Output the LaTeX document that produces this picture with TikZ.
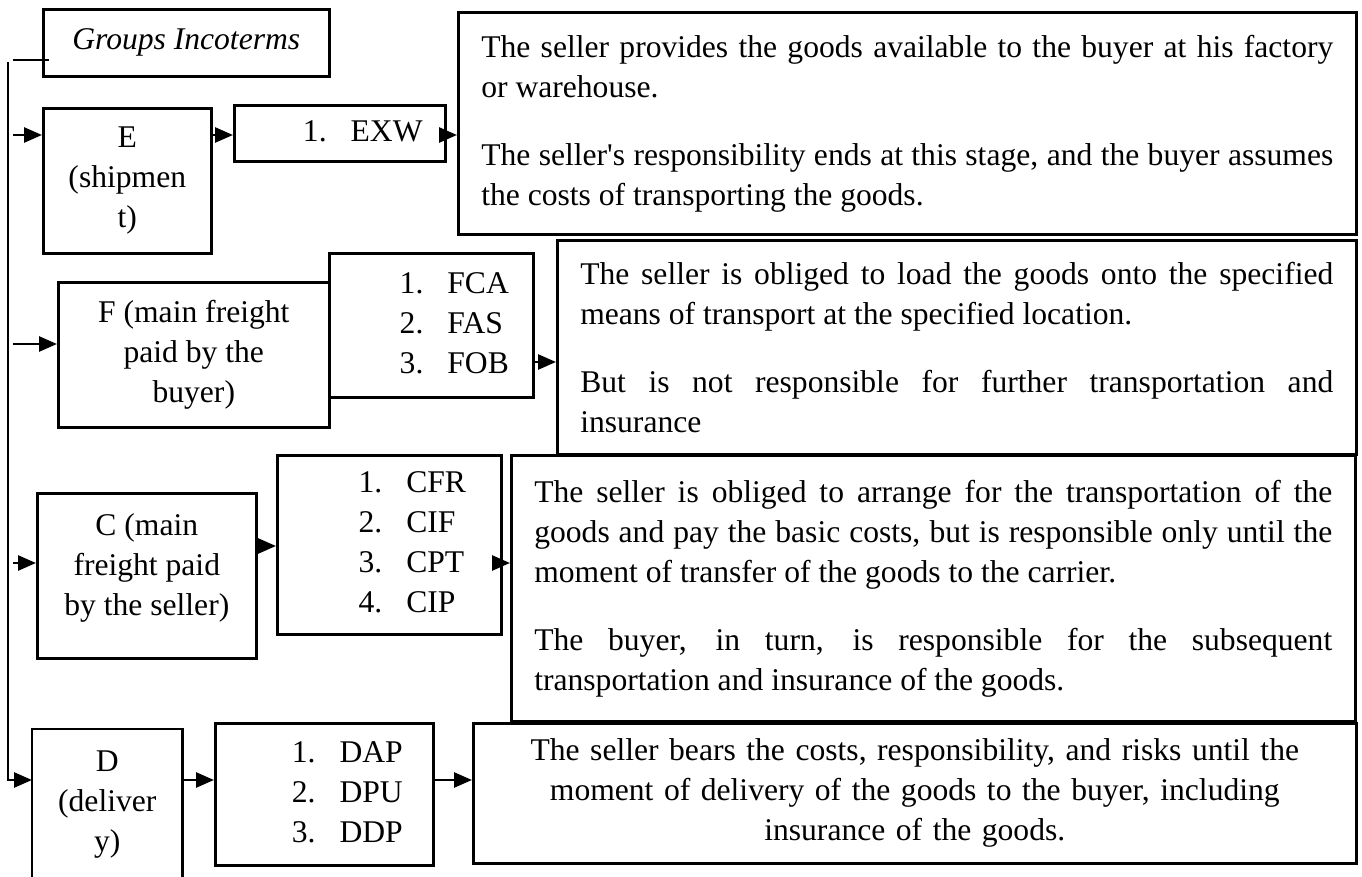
\documentclass[tikz,border=0pt]{standalone}
\usepackage{fontspec}
\setmainfont{Liberation Serif}
\usetikzlibrary{arrows.meta,positioning}

\setlength{\parindent}{0pt}
\tolerance=9999
\hyphenpenalty=10000
\hbadness=10000

\newcommand{\terms}[1]{\hspace*{23pt}\begin{tabular}{@{}r@{\hspace{12pt}}l@{}}#1\end{tabular}}

\begin{document}
\begin{tikzpicture}[x=0.5pt,y=-0.5pt,font=\fontsize{15.8}{20}\selectfont,
    box/.style={draw,line width=1.3pt,inner sep=0pt,anchor=north west,align=center},
    listbox/.style={draw,line width=1.3pt,inner sep=0pt,anchor=north west},
    descbox/.style={draw,line width=1.3pt,anchor=north west,inner xsep=11.5pt,inner ysep=0pt,align=justify},
    arr/.style={-{Triangle[length=9pt,width=7.5pt]},line width=1.3pt},
    thinline/.style={line width=0.8pt}]

  \useasboundingbox (0,0) rectangle (1362,877);

  \node[box,minimum width=143pt,minimum height=33.5pt] (title) at (42,8) {\itshape Groups Incoterms};

  % Group E
  \node[box,minimum width=84pt,minimum height=72.5pt] (E) at (42,107) {E\\(shipmen\\t)};
  \node[listbox,minimum width=105.5pt,minimum height=28pt] (EXW) at (233,104) {\terms{1. & EXW}};
  \node[descbox,text width=426pt,minimum height=111pt] (T1) at (457,11)
    {The seller provides the goods available to the buyer at his factory\linebreak or warehouse.\par\vspace{14pt}The seller\textquotesingle s responsibility ends at this stage, and the buyer assumes\linebreak the costs of transporting the goods.};

  % Group F
  \node[box,minimum width=135.5pt,minimum height=72.5pt] (F) at (57,281) {F (main freight\\paid by the\\buyer)};
  \node[listbox,minimum width=102pt,minimum height=72pt] (FCA) at (328,252) {\terms{1. & FCA\\2. & FAS\\3. & FOB}};
  \node[descbox,text width=376.5pt,minimum height=107pt] (T2) at (556,239)
    {The seller is obliged to load the goods onto the specified\linebreak means of transport at the specified location.\par\vspace{14pt}But is not responsible for further transportation and\linebreak insurance};

  % Group C
  \node[listbox,minimum width=109.5pt,minimum height=82.5pt] (C) at (36,492)
    {\raisebox{4pt}[\height][\depth]{\begin{tabular}{@{}c@{}}C (main\\freight paid\\by the seller)\end{tabular}}};
  \node[listbox,minimum width=112pt,minimum height=89.5pt] (CFR) at (276,454) {\terms{1. & CFR\\2. & CIF\\3. & CPT\\4. & CIP}};
  \node[descbox,text width=399pt,minimum height=133pt] (T3) at (510,454)
    {The seller is obliged to arrange for the transportation of the\linebreak goods and pay the basic costs, but is responsible only until the\linebreak moment of transfer of the goods to the carrier.\par\vspace{14pt}The buyer, in turn, is responsible for the subsequent\linebreak transportation and insurance of the goods.};

  % Group D (runs off the page)
  \node[box,draw=none,minimum width=74pt,minimum height=74pt] (D) at (32,729) {D\\(deliver\\y)};
  \draw[line width=1.3pt] (D.south west) -- (D.north west) -- (D.north east) -- (D.south east);
  \node[listbox,minimum width=109pt,minimum height=71pt] (DAP) at (214,722) {\terms{1. & DAP\\2. & DPU\\3. & DDP}};
  \node[descbox,align=center,text width=418.5pt,minimum height=70pt] (T4) at (472,722)
    {The seller bears the costs, responsibility, and risks until the\\moment of delivery of the goods to the buyer, including\\insurance of the goods.};

  % Rows of the arrows
  \coordinate (spine) at (8,62);
  \coordinate (tap) at (13,60);
  \coordinate (feed) at (13,0);
  \coordinate (rowE) at (0,135);
  \coordinate (rowF) at (0,344);
  \coordinate (rowFt) at (0,362);
  \coordinate (rowC) at (0,563);
  \coordinate (rowCl) at (0,546);
  \coordinate (rowD) at (0,780);

  \draw[thinline] (tap) -- ++(36,0);
  \draw[thinline] (spine) -- (spine |- rowD) -- (feed |- rowD);

  \draw[arr] (feed |- rowE) -- (E.west |- rowE);
  \draw[arr] (E.east |- rowE) -- (EXW.west |- rowE);
  \draw[arr] (EXW.east |- rowE) -- (T1.west |- rowE);

  \draw[arr] (feed |- rowF) -- (F.west |- rowF);
  \draw[arr] (FCA.east |- rowFt) -- (T2.west |- rowFt);

  \draw[arr] (feed |- rowC) -- (C.west |- rowC);
  \draw[arr] (C.east |- rowCl) -- (CFR.west |- rowCl);
  \draw[arr] (CFR.east |- rowC) -- (T3.west |- rowC);

  \draw[arr] (feed |- rowD) -- (D.west |- rowD);
  \draw[arr] (D.east |- rowD) -- (DAP.west |- rowD);
  \draw[arr] (DAP.east |- rowD) -- (T4.west |- rowD);

\end{tikzpicture}
\end{document}
